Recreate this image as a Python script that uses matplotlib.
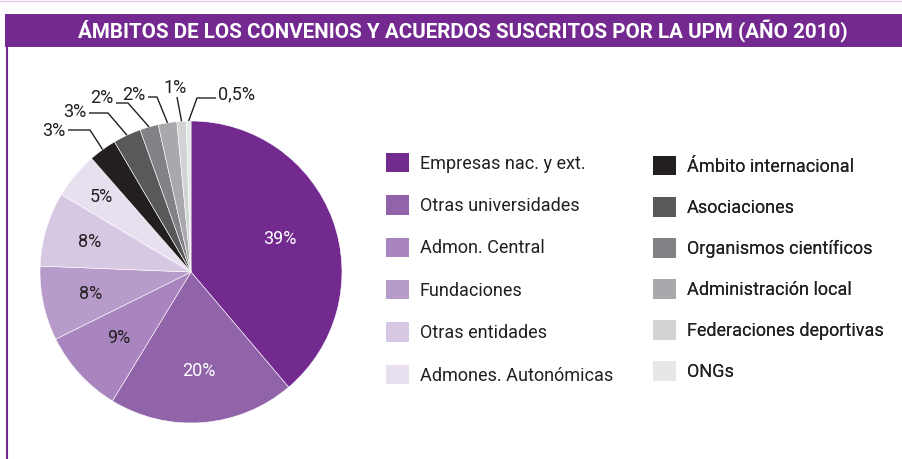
import numpy as np
import matplotlib
matplotlib.use("Agg")
import matplotlib.pyplot as plt
from matplotlib.patches import Rectangle, Patch

# ---------------- data ----------------
title = "ÁMBITOS DE LOS CONVENIOS Y ACUERDOS SUSCRITOS POR LA UPM (AÑO 2010)"
categories = ["Empresas nac. y ext.", "Otras universidades", "Admon. Central",
              "Fundaciones", "Otras entidades", "Admones. Autonómicas",
              "Ámbito internacional", "Asociaciones", "Organismos científicos",
              "Administración local", "Federaciones deportivas", "ONGs"]
values = [39, 20, 9, 8, 8, 5, 3, 3, 2, 2, 1, 0.5]
labels = [f"{v:g}%".replace(".", ",") for v in values]
colors = ["#722a8f", "#9163a9", "#a985bf", "#b79ccb", "#d6c7e2", "#e8e0ef",
          "#231f20", "#58595b", "#808285", "#a7a9ac", "#d1d3d4", "#e6e7e8"]

W, H = 903, 459
FONT = "Roboto"
plt.rcParams["font.family"] = [FONT, "DejaVu Sans"]
TXT = "#231f20"

fig = plt.figure(figsize=(W / 100, H / 100), dpi=100)
ax = fig.add_axes([0, 0, 1, 1])

def Y(py):
    return H - py

cx, cy, R = 191, Y(272), 151
wedges, _ = ax.pie(values, colors=colors, startangle=90, counterclock=False,
                   center=(cx, cy), radius=R,
                   wedgeprops=dict(edgecolor="white", linewidth=0.4))
ax.set_xlim(0, W)
ax.set_ylim(0, H)
ax.set_aspect("auto")
ax.axis("off")

LFS = 13
# inside labels
inner_r = [0.63, 0.66, 0.65, 0.68, 0.70, 0.77]
for i in range(6):
    w = wedges[i]
    a = np.deg2rad((w.theta1 + w.theta2) / 2)
    col = "white" if i < 2 else TXT
    ax.text(cx + inner_r[i] * R * np.cos(a), cy + inner_r[i] * R * np.sin(a),
            labels[i], ha="center", va="center", fontsize=LFS, color=col)

# outside labels with leader lines: (text pos, ha, line points before anchor)
outside = {
    6: ((65, 131), "right", [(68, 130), (90, 130)]),
    7: ((86, 112), "right", [(89, 113), (108, 113)]),
    8: ((113, 98), "right", [(116, 103), (128, 103)]),
    9: ((145, 95), "right", [(148, 97), (157, 97)]),
    10: ((175, 88), "center", [(177, 97)]),
    11: ((218, 94), "left", [(216, 98), (197, 98)]),
}
for i, ((tx, ty), ha, pts) in outside.items():
    w = wedges[i]
    a = np.deg2rad((w.theta1 + w.theta2) / 2)
    ax_, ay_ = cx + R * np.cos(a), cy + R * np.sin(a)
    xs = [p[0] for p in pts] + [ax_]
    ys = [Y(p[1]) for p in pts] + [ay_]
    ax.plot(xs, ys, color=TXT, lw=1.0, solid_capstyle="butt")
    ax.text(tx, Y(ty), labels[i], ha=ha, va="center", fontsize=LFS, color=TXT)

# title band and frame
ax.add_patch(Rectangle((5, Y(47)), W - 5, 33, facecolor="#73298f", edgecolor="none"))
t = ax.text(463, Y(31), title, ha="center", va="center", color="white",
            fontsize=14, fontweight="bold")
fig.canvas.draw()
wpx = t.get_window_extent().width
t.set_fontsize(14 * 776 / wpx)
ax.plot([7, 7], [0, Y(47)], color="#73298f", lw=1.5)
ax.plot([0, W], [H - 0.5, H - 0.5], color="#dccbe6", lw=1)

# legends
handles = [Patch(facecolor=c, edgecolor="none") for c in colors]
for col, (x0, y0, ls) in enumerate([(386, 153, 1.25), (653, 156, 1.18)]):
    idx = range(col * 6, col * 6 + 6)
    leg = ax.legend([handles[i] for i in idx], [categories[i] for i in idx],
                    loc="upper left", bbox_to_anchor=(x0 / W, 1 - y0 / H),
                    bbox_transform=fig.transFigure, frameon=False, fontsize=LFS,
                    handlelength=1.28, handleheight=1.28, handletextpad=0.6,
                    labelspacing=ls, borderpad=0, borderaxespad=0,
                    labelcolor=TXT)
    ax.add_artist(leg)

fig.savefig("out.png", dpi=100)
